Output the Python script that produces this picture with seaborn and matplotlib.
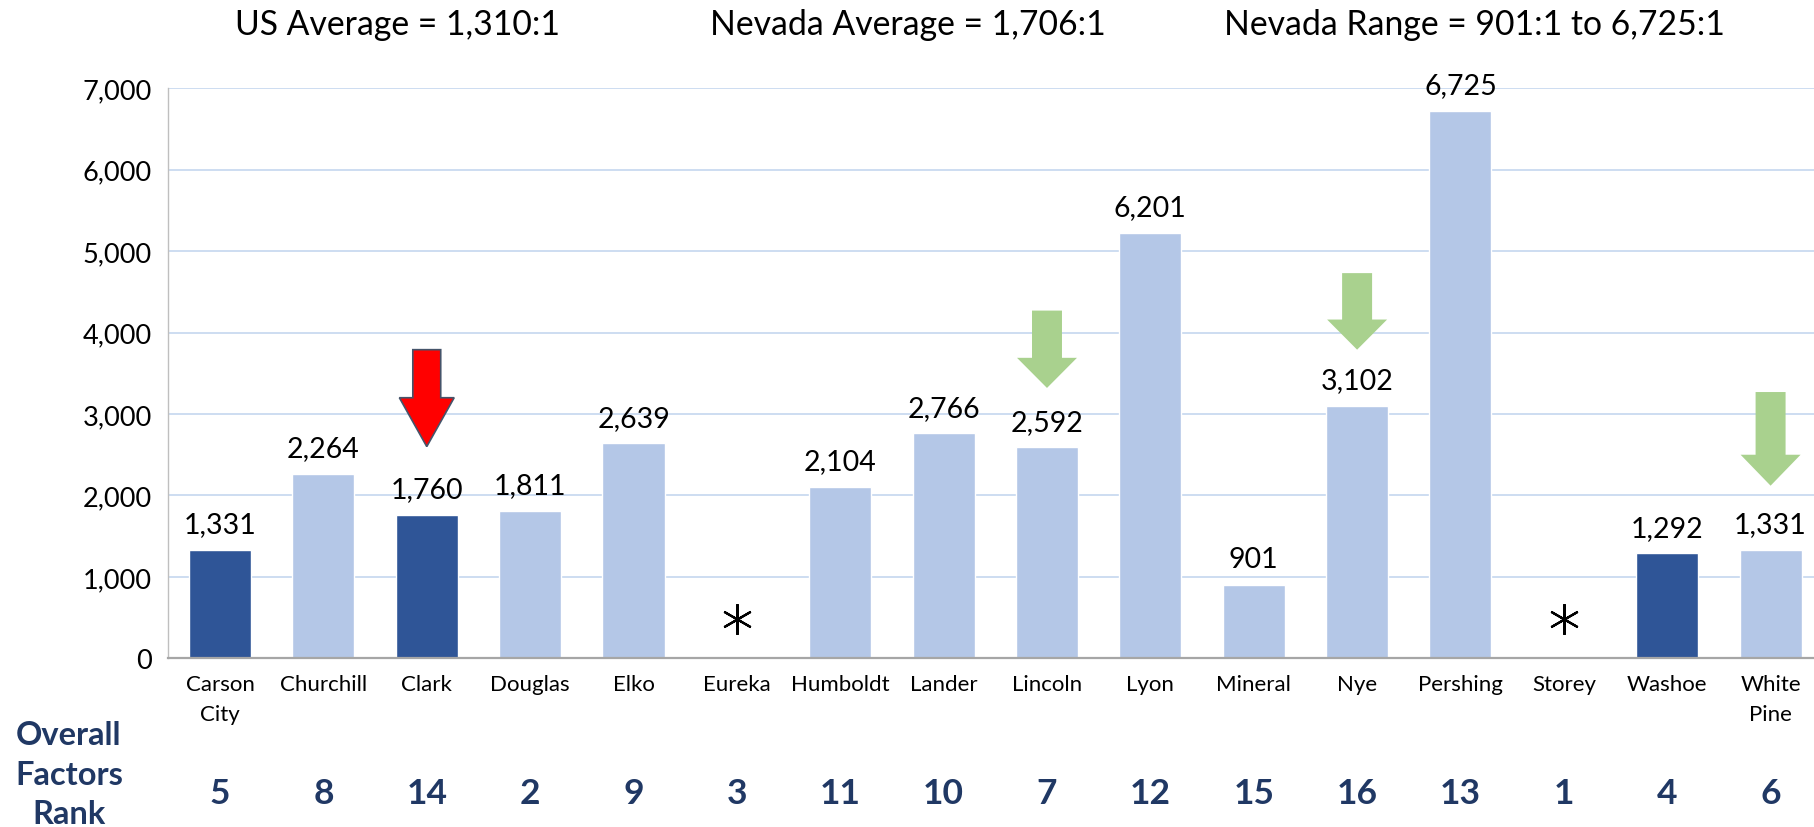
import numpy as np
import pandas as pd
import matplotlib
matplotlib.use("Agg")
import matplotlib.pyplot as plt
from matplotlib.patches import Polygon
from matplotlib.transforms import blended_transform_factory
import seaborn as sns

# ---------------- data ----------------
counties = ["Carson\nCity", "Churchill", "Clark", "Douglas", "Elko", "Eureka", "Humboldt",
            "Lander", "Lincoln", "Lyon", "Mineral", "Nye", "Pershing", "Storey",
            "Washoe", "White\nPine"]
bar_values = [1331, 2264, 1760, 1811, 2639, np.nan, 2104, 2766, 2592, 5225, 901,
              3102, 6725, np.nan, 1292, 1331]
value_labels = ["1,331", "2,264", "1,760", "1,811", "2,639", "", "2,104", "2,766",
                "2,592", "6,201", "901", "3,102", "6,725", "", "1,292", "1,331"]
highlight = [True, False, True, False, False, False, False, False, False, False,
             False, False, False, False, True, False]
ranks = ["5", "8", "14", "2", "9", "3", "11", "10", "7", "12", "15", "16", "13",
         "1", "4", "6"]
titles = ["US Average = 1,310:1", "Nevada Average = 1,706:1",
          "Nevada Range = 901:1 to 6,725:1"]
y_ticks = [0, 1000, 2000, 3000, 4000, 5000, 6000, 7000]

# arrows: category index, top of shaft, head base, tip (data units), colour
arrow_idx = [2, 8, 11, 15]
arrow_top = [3790, 4270, 4730, 3270]
arrow_base = [3200, 3690, 4160, 2500]
arrow_tip = [2600, 3320, 3790, 2120]
arrow_color = ["#FF0000", "#A9D18E", "#A9D18E", "#A9D18E"]
arrow_edge = ["#44546A", "none", "none", "none"]
arrow_head_w = [0.53, 0.58, 0.58, 0.58]
arrow_shaft_w = [0.27, 0.29, 0.29, 0.29]

DARK = "#2F5597"
LIGHT = "#B4C7E7"
RANK_BLUE = "#203864"

df = pd.DataFrame({"county": counties, "value": bar_values})
palette = {c: (DARK if h else LIGHT) for c, h in zip(counties, highlight)}

# ---------------- figure ----------------
sns.set_theme(style="white")
plt.rcParams["font.family"] = ["Lato", "DejaVu Sans"]

fig = plt.figure(figsize=(18.14, 8.28), dpi=100)
ax = fig.add_axes([0.0928, 0.2037, 1 - 0.0928, 0.6885])

sns.barplot(data=df, x="county", y="value", hue="county", palette=palette,
            order=counties, hue_order=counties, width=0.6, legend=False,
            saturation=1, ax=ax, zorder=2)

ax.set_xlim(-0.5, 15.42)
ax.set_ylim(0, 7000)
ax.set_yticks(y_ticks)
ax.set_yticklabels([f"{v:,}" for v in y_ticks], fontsize=19.5, color="black")
ax.tick_params(axis="x", length=0, pad=11, labelsize=16, labelcolor="black")
ax.tick_params(axis="y", length=0, pad=12)
for lbl in ax.get_xticklabels():
    lbl.set_linespacing(1.62)
ax.set_xlabel("")
ax.set_ylabel("")

ax.yaxis.grid(True, color="#C9DAF0", linewidth=1.3, zorder=0)
ax.set_axisbelow(True)
for s in ["top", "right"]:
    ax.spines[s].set_visible(False)
ax.spines["left"].set_color("#BFBFBF")
ax.spines["left"].set_linewidth(1.0)
ax.spines["bottom"].set_color("#A6A6A6")
ax.spines["bottom"].set_linewidth(1.6)
ax.spines["bottom"].set_zorder(3)

# value labels / missing markers
for i, (v, t) in enumerate(zip(bar_values, value_labels)):
    if np.isnan(v):
        ax.plot(i, 480, marker=(6, 2, 0), markersize=22, mew=1.6, color="black",
                linestyle="none", zorder=4)
    else:
        ax.annotate(t, (i, v), xytext=(0, 9), textcoords="offset points",
                    ha="center", va="bottom", fontsize=20.5, color="black")

# arrows
for i, top, base, tip, col, ec, hw, sw in zip(arrow_idx, arrow_top, arrow_base,
                                              arrow_tip, arrow_color, arrow_edge,
                                              arrow_head_w, arrow_shaft_w):
    pts = [(i - sw / 2, top), (i + sw / 2, top), (i + sw / 2, base), (i + hw / 2, base),
           (i, tip), (i - hw / 2, base), (i - sw / 2, base)]
    ax.add_patch(Polygon(pts, closed=True, facecolor=col,
                         edgecolor=ec, linewidth=1.2 if ec != "none" else 0, zorder=5))

# rank row
trans = blended_transform_factory(ax.transData, fig.transFigure)
for i, r in enumerate(ranks):
    ax.text(i, 0.041, r, transform=trans, ha="center", va="center", fontsize=25.5,
            fontweight="bold", color=RANK_BLUE)
fig.text(0.038, 0.064, "Overall\nFactors\nRank", ha="center", va="center",
         fontsize=23.5, fontweight="bold", color=RANK_BLUE, linespacing=1.42,
         multialignment="center")

# header texts
for x, t in zip([0.2194, 0.5003, 0.813], titles):
    fig.text(x, 0.970, t, ha="center", va="center", fontsize=24.3, color="black")

fig.savefig("out.png", dpi=100)
